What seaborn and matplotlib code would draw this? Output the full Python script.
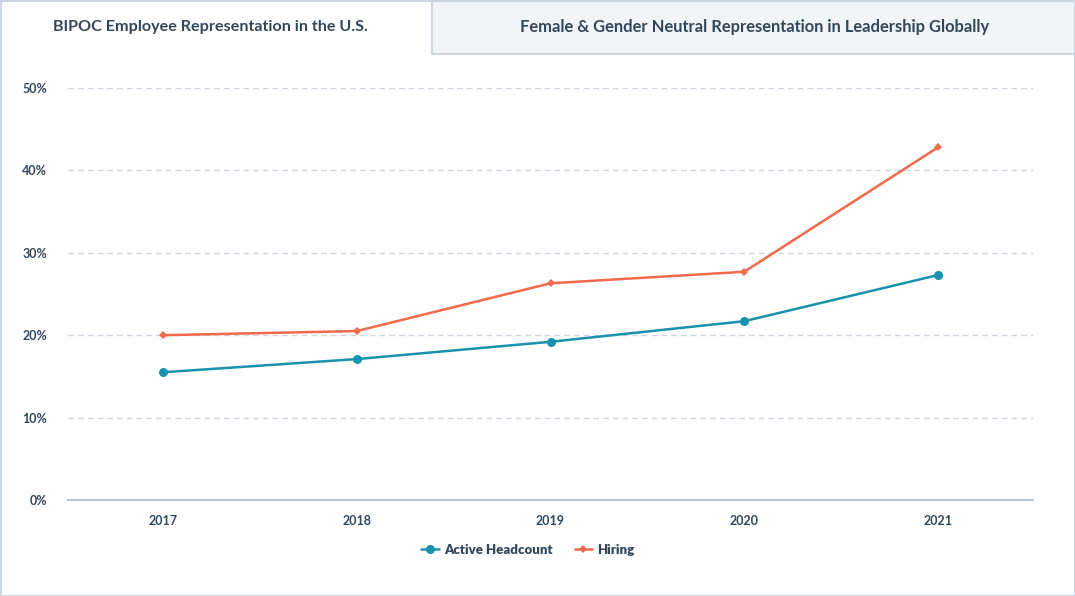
import pandas as pd
import numpy as np
import seaborn as sns
import matplotlib.pyplot as plt
from matplotlib.patches import Rectangle

# dados
anos = ['2017', '2018', '2019', '2020', '2021']
active_headcount = [15.5, 17.1, 19.2, 21.7, 27.3]
hiring = [20.0, 20.5, 26.3, 27.7, 42.8]
y_ticks = [0, 10, 20, 30, 40, 50]
tab_titles = ['BIPOC Employee Representation in the U.S.',
              'Female & Gender Neutral Representation in Leadership Globally']

Base_Dados = pd.DataFrame({
    'ano': anos * 2,
    'valor': active_headcount + hiring,
    'serie': ['Active Headcount'] * len(anos) + ['Hiring'] * len(anos),
})

sns.set_style('white')
plt.rcParams['font.family'] = ['Lato', 'DejaVu Sans']

texto = '#33475b'
teal = '#1a91ad'
laranja = '#f2694c'
borda = '#cbd6e2'

fig = plt.figure(figsize=(10.75, 5.96), dpi=100)
W, H = 1075, 596

# abas do topo
fig.patches.append(Rectangle((432 / W, 1 - 54 / H), (W - 432) / W, 54 / H,
                             transform=fig.transFigure, facecolor='#f1f4f8',
                             edgecolor=borda, linewidth=1.5, zorder=0))
fig.patches.append(Rectangle((0.5 / W, 0.5 / H), (W - 1) / W, (H - 1) / H,
                             transform=fig.transFigure, facecolor='none',
                             edgecolor=borda, linewidth=1.5, zorder=0))
fig.text(210 / W, 1 - 27 / H, tab_titles[0], ha='center', va='center',
         fontsize=11.6, color=texto, fontweight='bold')
fig.text(755 / W, 1 - 27 / H, tab_titles[1], ha='center', va='center',
         fontsize=11.9, color=texto, fontweight='bold')

ax = fig.add_axes([68 / W, (H - 500) / H, (1033 - 68) / W, (500 - 88) / H])
sns.lineplot(data=Base_Dados, x='ano', y='valor', hue='serie', style='serie',
             palette={'Active Headcount': teal, 'Hiring': laranja},
             markers={'Active Headcount': 'o', 'Hiring': 'D'},
             dashes=False, linewidth=1.8, markersize=6.5,
             markeredgewidth=0, ax=ax)
for l in ax.lines:
    if l.get_marker() == 'D':
        l.set_markersize(4.5)

ax.set_ylim(0, 50)
ax.set_xlim(-0.49, 4.49)
ax.set_yticks(y_ticks)
ax.set_yticklabels([f'{v}%' for v in y_ticks])
ax.grid(axis='y', color=borda, linestyle=(0, (4, 3)), linewidth=1)
ax.set_axisbelow(True)
for s in ['top', 'right', 'left']:
    ax.spines[s].set_visible(False)
ax.spines['bottom'].set_color('#b9c5d2')
ax.spines['bottom'].set_linewidth(1.5)
ax.tick_params(axis='both', length=0, labelsize=9, labelcolor=texto)
ax.tick_params(axis='y', pad=15)
ax.tick_params(axis='x', pad=11)
for t in ax.get_xticklabels() + ax.get_yticklabels():
    t.set_fontweight('bold')
ax.set_xlabel('')
ax.set_ylabel('')

leg = ax.legend(loc='center', bbox_to_anchor=(528 / W, 1 - 550 / H),
                bbox_transform=fig.transFigure, ncol=2, frameon=False,
                handlelength=1.3, handletextpad=0.4, columnspacing=1.7,
                prop={'size': 9.5, 'weight': 'heavy'})
for t in leg.get_texts():
    t.set_color(texto)

plt.savefig('out.png', dpi=100)
